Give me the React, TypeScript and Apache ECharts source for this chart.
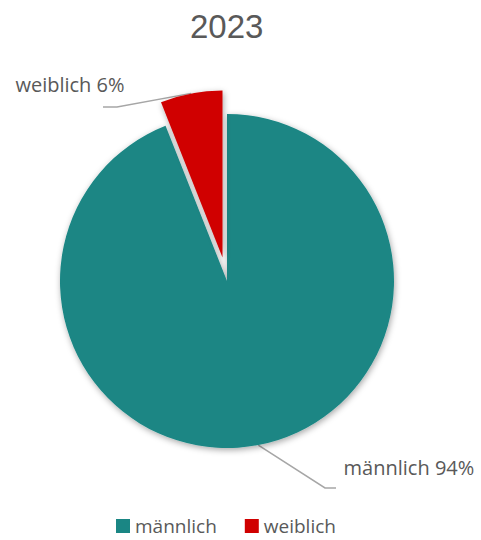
import React, { useEffect, useRef } from "react";
import * as echarts from "echarts";

const titleText = "2023";
const categories = ["männlich", "weiblich"];
const values = [94, 6];
const colors = ["#1a8684", "#d00000"];
const selectedIndex = 1;

export default function App() {
  const ref = useRef<HTMLDivElement>(null);
  useEffect(() => {
    if (!ref.current) return;
    const chart = echarts.init(ref.current, null, { renderer: "svg" });
    const font = "'Open Sans', 'Noto Sans', sans-serif";
    const selectedOffset = 24;
    const total = values.reduce((a, b) => a + b, 0);
    // offset of the exploded slice (clockwise from 12 o'clock)
    const before = values.slice(0, selectedIndex).reduce((a, b) => a + b, 0);
    const midDeg = ((before + values[selectedIndex] / 2) / total) * 360;
    const offX = selectedOffset * Math.sin((midDeg * Math.PI) / 180);
    const offY = -selectedOffset * Math.cos((midDeg * Math.PI) / 180);

    const lineLens = [
      { length: 23, length2: 76 },
      { length: 9, length2: 60 },
    ];
    chart.setOption({
      animation: false,
      backgroundColor: "#ffffff",
      title: {
        text: titleText,
        left: 190,
        top: 10,
        padding: 0,
        textStyle: { fontFamily: "'Liberation Sans', Arial, sans-serif", fontSize: 33, fontWeight: "normal", color: "#595959" },
      },
      legend: {
        top: 516,
        left: 116,
        padding: 0,
        icon: "rect",
        itemWidth: 14,
        itemHeight: 14,
        itemGap: 28,
        data: categories,
        textStyle: { fontFamily: font, fontSize: 19, lineHeight: 20, color: "#595959" },
      },
      series: [
        {
          type: "pie",
          center: [227, 281],
          radius: 167,
          startAngle: 90,
          clockwise: true,
          selectedMode: "single",
          selectedOffset,
          avoidLabelOverlap: false,
          itemStyle: {
            shadowBlur: 6,
            shadowColor: "rgba(0,0,0,0.35)",
            shadowOffsetX: 1,
            shadowOffsetY: 2,
          },
          label: {
            show: true,
            position: "outside",
            formatter: (p: any) => `${p.name} ${p.value}%`,
            fontFamily: font,
            fontSize: 20,
            color: "#595959",
            distanceToLabelLine: 5,
          },
          labelLine: { show: true, lineStyle: { color: "#a6a6a6", width: 1.5 }, smooth: false },
          labelLayout: (params: any) => {
            const pts = params.labelLinePoints;
            if (!pts) return {};
            const start = pts[0];
            if (params.dataIndex === selectedIndex) {
              // points are shifted by the select offset afterwards; compensate
              return {
                labelLinePoints: [
                  start,
                  [117 - offX, 107 - offY],
                  [103 - offX, 107 - offY],
                ],
              };
            }
            return { labelLinePoints: [start, [325, 488], [336, 488]] };
          },
          emphasis: { disabled: true },
          data: categories.map((c, i) => ({
            name: c,
            value: values[i],
            selected: i === selectedIndex,
            itemStyle: { color: colors[i] },
            labelLine: lineLens[i],
          })),
        },
      ],
    });
    return () => chart.dispose();
  }, []);
  return <div ref={ref} style={{ position: "fixed", left: 0, top: 0, width: 481, height: 540 }} />;
}
